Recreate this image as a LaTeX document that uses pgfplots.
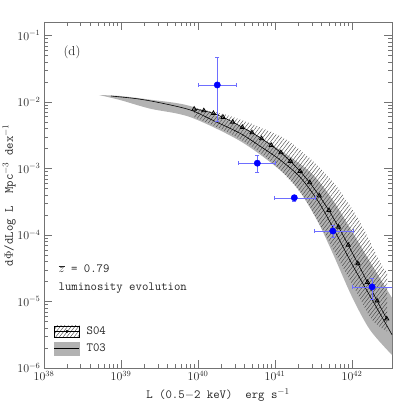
\documentclass[border=0pt]{standalone}
\usepackage{pgfplots}
\pgfplotsset{compat=1.18}
\usepgfplotslibrary{fillbetween}
\usetikzlibrary{patterns,patterns.meta}
\definecolor{eb}{RGB}{110,110,255}
\tikzset{hatch/.style={pattern={Lines[angle=52, distance=2.9pt, line width=0.4pt]}, pattern color=black!75}}
\pgfplotsset{
  ebx/.style={eb, line width=0.5pt, mark=|, mark size=2pt, mark options={solid, eb, line width=0.5pt}, forget plot},
  eby/.style={eb, line width=0.5pt, mark=-, mark size=2pt, mark options={solid, eb, line width=0.5pt}, forget plot},
}
\begin{document}
\begin{tikzpicture}
\begin{axis}[
  scale only axis, width=348bp, height=346bp,
  xmode=log, ymode=log,
  xmin=1e38, xmax=3.3e42, ymin=1e-6, ymax=0.1596,
  xtick={1e38,1e39,1e40,1e41,1e42},
  ytick={1e-6,1e-5,1e-4,1e-3,1e-2,1e-1},
  tick align=inside,
  major tick length=8bp, minor tick length=4.5bp,
  axis line style={black!55, line width=0.6pt},
  every tick/.style={black!55, line width=0.5pt},
  tick label style={font=\large, black!85},
  xlabel={L (0.5$-$2 keV)\ \ erg s$^{-1}$},
  ylabel={d$\Phi$/dLog L\ \ Mpc$^{-3}$ dex$^{-1}$},
  label style={font=\fontsize{12.5pt}{14pt}\ttfamily, black!85},
  xlabel style={at={(axis description cs:0.5,-0.078)}, anchor=center},
  ylabel style={at={(axis description cs:-0.1,0.5)}, anchor=center},
  legend style={draw=none, fill=none, at={(0.02,0.03)}, anchor=south west,
    font=\fontsize{12.5pt}{14pt}\ttfamily, row sep=4pt, text=black!85,
    /tikz/every odd column/.append style={column sep=5pt}},
  legend cell align=left,
]
% T03 band
\addplot[draw=none, smooth, name path=gu, forget plot] coordinates {
(5.176e38,1.274e-2) (9.705e38,1.230e-2) (2.382e39,1.084e-2) (7.870e39,8.710e-3)
(3.508e40,4.355e-3) (1.161e41,1.897e-3) (2.851e41,8.851e-4) (5.176e41,3.855e-4)
(9.419e41,1.274e-4) (1.714e42,3.926e-5) (3.304e42,1.130e-5)};
\addplot[draw=none, smooth, name path=gl, forget plot] coordinates {
(5.176e38,1.274e-2) (9.705e38,1.072e-2) (2.382e39,7.943e-3) (7.870e39,5.943e-3)
(3.508e40,2.594e-3) (1.161e41,9.484e-4) (2.113e41,4.436e-4) (3.614e41,1.567e-4)
(5.662e41,5.176e-5) (1.000e42,1.169e-5) (1.714e42,3.724e-6) (3.304e42,1.567e-6)};
\addplot[fill=black!30, draw=none, forget plot] fill between[of=gu and gl];
% S04 band
\addplot[draw=none, smooth, name path=hu, forget plot] coordinates {
(8.872e39,8.128e-3) (2.113e40,6.607e-3) (5.023e40,4.667e-3) (1.432e41,2.685e-3)
(3.508e41,1.130e-3) (6.383e41,5.272e-4) (1.271e42,1.567e-4) (2.312e42,3.926e-5)
(2.851e42,2.754e-5)};
\addplot[draw=none, smooth, name path=hl, forget plot] coordinates {
(8.872e39,5.943e-3) (2.851e40,3.192e-3) (7.870e40,1.439e-3) (2.113e41,4.436e-4)
(3.837e41,1.413e-4) (6.982e41,3.926e-5) (1.197e42,1.253e-5) (1.820e42,5.272e-6)
(2.851e42,3.548e-6)};
\addplot[hatch, draw=none, forget plot] fill between[of=hu and hl];
% T03 line
\addplot[black, line width=0.6pt, smooth, forget plot] coordinates {
(7.413e38,1.230e-2) (1.585e39,1.122e-2) (3.162e39,9.772e-3) (7.943e39,7.586e-3)
(1.585e40,5.248e-3) (3.508e40,3.388e-3) (6.310e40,2.188e-3) (1.161e41,1.349e-3)
(2.113e41,7.413e-4) (3.614e41,3.236e-4) (5.662e41,1.288e-4) (1.000e42,3.631e-5)
(1.714e42,1.202e-5) (3.304e42,3.162e-6)};
% S04 points
\addplot[black, line width=0.6pt, mark=triangle, mark size=2.4pt, mark options={solid, line width=0.8pt}, forget plot] coordinates {
(8.913e39,7.852e-3) (1.189e40,7.413e-3) (1.585e40,6.761e-3) (2.113e40,5.888e-3)
(2.818e40,5.012e-3) (3.758e40,4.169e-3) (5.012e40,3.467e-3) (6.683e40,2.818e-3)
(8.913e40,2.239e-3) (1.189e41,1.738e-3) (1.585e41,1.288e-3) (2.113e41,9.120e-4)
(2.818e41,6.166e-4) (3.758e41,3.890e-4) (5.012e41,2.344e-4) (6.683e41,1.318e-4)
(8.913e41,7.079e-5) (1.189e42,3.715e-5) (1.585e42,1.950e-5) (2.113e42,1.023e-5)
(2.818e42,5.495e-6)};
% error bars of the data points
\addplot[ebx] coordinates {(1.000e40,1.803e-2) (3.162e40,1.803e-2)};
\addplot[eby] coordinates {(1.778e40,5.129e-3) (1.778e40,4.786e-2)};
\addplot[ebx] coordinates {(3.311e40,1.202e-3) (1.000e41,1.202e-3)};
\addplot[eby] coordinates {(5.888e40,8.913e-4) (5.888e40,1.585e-3)};
\addplot[ebx] coordinates {(9.772e40,3.631e-4) (3.311e41,3.631e-4)};
\addplot[eby] coordinates {(1.778e41,3.236e-4) (1.778e41,3.981e-4)};
\addplot[ebx] coordinates {(3.236e41,1.148e-4) (1.023e42,1.148e-4)};
\addplot[eby] coordinates {(5.623e41,9.333e-5) (5.623e41,1.380e-4)};
\addplot[ebx] coordinates {(1.000e42,1.660e-5) (3.500e42,1.660e-5)};
\addplot[eby] coordinates {(1.820e42,1.096e-5) (1.820e42,2.239e-5)};
% data points
\addplot[forget plot, only marks, mark=*, mark size=3.2pt, blue, mark options={fill=blue, draw=blue}]
  coordinates {(1.778e40,1.803e-2) (5.888e40,1.202e-3) (1.778e41,3.631e-4) (5.623e41,1.148e-4) (1.820e42,1.660e-5)};
% legend
\addlegendimage{legend image code/.code={
  \fill[hatch] (0pt,-5.5pt) rectangle (25pt,5.5pt);
  \draw[black, line width=0.6pt] (0pt,0pt) -- (25pt,0pt);
  \fill[black] (12.5pt,0pt) circle (1.3pt);}}
\addlegendentry{S04}
\addlegendimage{legend image code/.code={
  \fill[black!30] (0pt,-6.5pt) rectangle (25pt,6.5pt);
  \draw[black, line width=0.6pt] (0pt,0pt) -- (25pt,0pt);}}
\addlegendentry{T03}
\node[anchor=west, font=\fontsize{13pt}{15pt}\selectfont, black!85] at (rel axis cs:0.046,0.913) {(d)};
\node[anchor=west, font=\fontsize{12.5pt}{14pt}\ttfamily, black!85] at (rel axis cs:0.032,0.286) {$\overline{z}$ = 0.79};
\node[anchor=west, font=\fontsize{12.5pt}{14pt}\ttfamily, black!85] at (rel axis cs:0.032,0.231) {luminosity evolution};
\end{axis}
\pgfresetboundingbox
\useasboundingbox (-44bp,-45bp) rectangle (369bp,368bp);
\end{tikzpicture}
\end{document}
